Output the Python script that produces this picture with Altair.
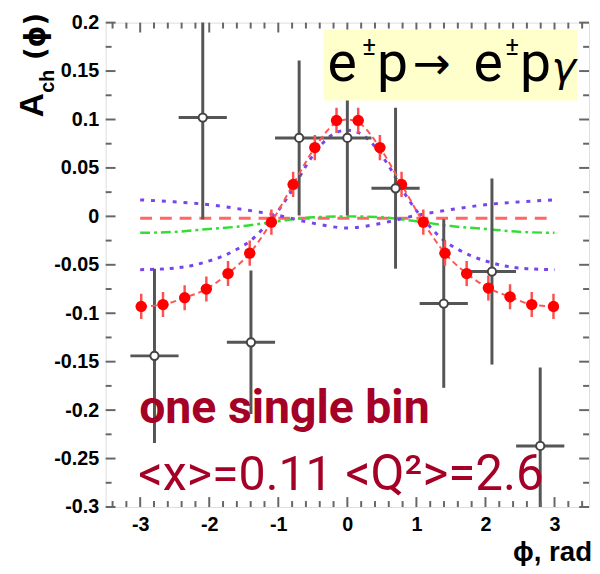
import altair as alt
import pandas as pd

# ---------------- data ----------------
# red points (20 bins)
red_x = [-2.985, -2.670, -2.356, -2.042, -1.728, -1.414, -1.100, -0.785, -0.471, -0.157,
         0.157, 0.471, 0.785, 1.100, 1.414, 1.728, 2.042, 2.356, 2.670, 2.985]
red_y = [-0.093, -0.091, -0.084, -0.075, -0.059, -0.038, -0.006, 0.033, 0.071, 0.099,
         0.099, 0.071, 0.033, -0.006, -0.038, -0.059, -0.074, -0.083, -0.091, -0.093]
red_yerr = [0.013] * 20
red_xerr = [0.08] * 20

# black open points (9 bins)
blk_x = [-2.793, -2.094, -1.396, -0.698, 0.0, 0.698, 1.396, 2.094, 2.793]
blk_y = [-0.144, 0.102, -0.130, 0.081, 0.081, 0.029, -0.090, -0.057, -0.237]
blk_yerr = [0.090, 0.105, 0.074, 0.080, 0.080, 0.083, 0.087, 0.096, 0.081]
blk_xerr = [0.349] * 9

# curves
fit_x = [-2.985, -2.670, -2.356, -2.042, -1.728, -1.414, -1.100, -0.785, -0.471, -0.157, 0.0,
         0.157, 0.471, 0.785, 1.100, 1.414, 1.728, 2.042, 2.356, 2.670, 2.985]
fit_y = [-0.093, -0.091, -0.084, -0.075, -0.059, -0.038, -0.006, 0.033, 0.071, 0.097, 0.100,
         0.097, 0.071, 0.033, -0.006, -0.038, -0.059, -0.074, -0.083, -0.091, -0.093]

flat_x = [-3.0, 3.0]
flat_y = [-0.002, -0.002]

green_x = [-3.0, -2.5, -2.0, -1.5, -1.0, -0.5, 0.0, 0.5, 1.0, 1.5, 2.0, 2.5, 3.0]
green_y = [-0.017, -0.016, -0.013, -0.010, -0.005, -0.001, 0.0, -0.001, -0.005, -0.010, -0.013, -0.016, -0.017]

blue1_x = [-3.0, -2.5, -2.0, -1.5, -1.0, -0.5, 0.0, 0.5, 1.0, 1.5, 2.0, 2.5, 3.0]
blue1_y = [0.017, 0.015, 0.012, 0.007, 0.001, -0.007, -0.012, -0.007, 0.001, 0.007, 0.012, 0.015, 0.017]

blue2_x = [-3.0, -2.6, -2.2, -2.0, -1.8, -1.6, -1.4, -1.2, -1.0, -0.8, -0.6, -0.4, -0.2, 0.0,
           0.2, 0.4, 0.6, 0.8, 1.0, 1.2, 1.4, 1.6, 1.8, 2.0, 2.2, 2.6, 3.0]
blue2_y = [-0.055, -0.054, -0.050, -0.046, -0.041, -0.034, -0.025, -0.011, 0.006, 0.027, 0.052, 0.072, 0.085, 0.089,
           0.085, 0.072, 0.052, 0.027, 0.006, -0.011, -0.025, -0.034, -0.041, -0.046, -0.050, -0.054, -0.055]

# axis ticks
x_major = [-3, -2, -1, 0, 1, 2, 3]
x_minor = [-3.4, -3.2, -2.8, -2.6, -2.4, -2.2, -1.8, -1.6, -1.4, -1.2, -0.8, -0.6, -0.4, -0.2,
           0.2, 0.4, 0.6, 0.8, 1.2, 1.4, 1.6, 1.8, 2.2, 2.4, 2.6, 2.8, 3.2, 3.4]
y_major = [-0.3, -0.25, -0.2, -0.15, -0.1, -0.05, 0, 0.05, 0.1, 0.15, 0.2]
y_minor = [-0.275, -0.225, -0.175, -0.125, -0.075, -0.025, 0.025, 0.075, 0.125, 0.175]

# ---------------- chart ----------------
W, H = 490, 491
XS = alt.Scale(domain=[-3.5, 3.5], nice=False, zero=False)
YS = alt.Scale(domain=[-0.3, 0.2], nice=False, zero=False)
LBL = "replace(format(datum.value, '.2~f'), '\u2212', '-')"

red_df = pd.DataFrame({"x": red_x, "y": red_y})
red_df["ylo"] = [a - b for a, b in zip(red_y, red_yerr)]
red_df["yhi"] = [a + b for a, b in zip(red_y, red_yerr)]
red_df["xlo"] = [a - b for a, b in zip(red_x, red_xerr)]
red_df["xhi"] = [a + b for a, b in zip(red_x, red_xerr)]

blk_df = pd.DataFrame({"x": blk_x, "y": blk_y})
blk_df["ylo"] = [a - b for a, b in zip(blk_y, blk_yerr)]
blk_df["yhi"] = [a + b for a, b in zip(blk_y, blk_yerr)]
blk_df["xlo"] = [a - b for a, b in zip(blk_x, blk_xerr)]
blk_df["xhi"] = [a + b for a, b in zip(blk_x, blk_xerr)]

XA = alt.Axis(values=x_major, labelExpr=LBL, tickSize=0, domain=False, grid=False,
              labelFont="Liberation Sans", labelFontWeight="bold", labelFontSize=20,
              labelColor="black", labelPadding=8, title=None)
YA = alt.Axis(values=y_major, labelExpr=LBL, tickSize=0, domain=False, grid=False,
              labelFont="Liberation Sans", labelFontWeight="bold", labelFontSize=20,
              labelColor="black", labelPadding=7, title=None)


def X(f):
    return alt.X(f, scale=XS, axis=XA)


def Y(f):
    return alt.Y(f, scale=YS, axis=YA)


def line(xs, ys, color, dash, width):
    df = pd.DataFrame({"x": xs, "y": ys})
    return alt.Chart(df).mark_line(color=color, strokeDash=dash, strokeWidth=width,
                                   clip=True, interpolate="monotone").encode(
        x=X("x:Q"), y=Y("y:Q"), order="x:Q")


one = pd.DataFrame({"a": [0]})


def txt(s, x, y, size, weight="normal", color="black", font="Roboto", angle=0,
        align="left", style="normal"):
    return alt.Chart(one).mark_text(text=s, fontSize=size, fontWeight=weight, color=color,
                                    font=font, angle=angle, align=align,
                                    baseline="alphabetic", fontStyle=style).encode(
        x=alt.value(x), y=alt.value(y))


TICK = "#666666"


def xticks(vals, length):
    df = pd.DataFrame({"x": vals})
    b = alt.Chart(df).mark_rule(color=TICK, strokeWidth=2).encode(
        x=X("x:Q"), y=alt.value(H), y2=alt.value(H - length))
    t = alt.Chart(df).mark_rule(color=TICK, strokeWidth=2).encode(
        x=X("x:Q"), y=alt.value(0), y2=alt.value(length))
    return [b, t]


def yticks(vals, length):
    df = pd.DataFrame({"y": vals})
    l = alt.Chart(df).mark_rule(color=TICK, strokeWidth=2).encode(
        y=Y("y:Q"), x=alt.value(0), x2=alt.value(length))
    r = alt.Chart(df).mark_rule(color=TICK, strokeWidth=2).encode(
        y=Y("y:Q"), x=alt.value(W), x2=alt.value(W - length))
    return [l, r]


layers = []
layers.append(line(flat_x, flat_y, "#ff6666", [12, 8], 3))
layers.append(line(green_x, green_y, "#33dd33", [10, 4, 3, 4], 2.5))
layers.append(line(blue1_x, blue1_y, "#7744ee", [4, 7], 3))
layers.append(line(blue2_x, blue2_y, "#7744ee", [4, 6], 3))

# black error bars
layers.append(alt.Chart(blk_df).mark_rule(color="#555555", strokeWidth=3, clip=True).encode(
    x=X("x:Q"), y=Y("ylo:Q"), y2="yhi:Q"))
layers.append(alt.Chart(blk_df).mark_rule(color="#555555", strokeWidth=3, clip=True).encode(
    x=X("xlo:Q"), x2="xhi:Q", y=Y("y:Q")))

# red fit
layers.append(line(fit_x, fit_y, "#ff5555", [6, 4], 2))
# red error bars and points
layers.append(alt.Chart(red_df).mark_rule(color="#ff5050", strokeWidth=2.5, clip=True).encode(
    x=X("x:Q"), y=Y("ylo:Q"), y2="yhi:Q"))
layers.append(alt.Chart(red_df).mark_rule(color="#ff5050", strokeWidth=2.5, clip=True).encode(
    x=X("xlo:Q"), x2="xhi:Q", y=Y("y:Q")))
layers.append(alt.Chart(red_df).mark_point(filled=True, color="#ff0000", size=130, opacity=1,
                                           shape="circle").encode(x=X("x:Q"), y=Y("y:Q")))
layers.append(alt.Chart(blk_df).mark_point(filled=True, fill="white", stroke="#444444",
                                           strokeWidth=2, size=70, opacity=1,
                                           shape="circle").encode(x=X("x:Q"), y=Y("y:Q")))

# ticks
layers += xticks(x_major, 10) + xticks(x_minor, 6) + yticks(y_major, 10) + yticks(y_minor, 6)

# reaction box
layers.append(alt.Chart(one).mark_rect(color="#ffffcc").encode(
    x=alt.value(221), x2=alt.value(478), y=alt.value(7), y2=alt.value(79)))
layers.append(txt("e", 225, 59, 56))
layers.append(txt("\u00b1", 260, 33, 26))
layers.append(txt("p", 275, 59, 56))
layers.append(txt("\u2192", 311, 57, 46, font="DejaVu Sans"))
layers.append(txt("e", 373, 59, 56))
layers.append(txt("\u00b1", 405, 33, 26))
layers.append(txt("p", 420, 59, 56))
layers.append(txt("\u03b3", 452, 59, 42, font="DejaVu Sans", style="italic"))

# annotations
DR = "#a50026"
layers.append(txt("one single bin", 34, 406, 47, weight="bold", color=DR))
layers.append(txt("<x>=0.11", 33, 474, 49, color=DR))
layers.append(txt("<Q\u00b2>=2.6", 243, 474, 50, color=DR))

# axis titles
layers.append(txt("A", -64, 96, 34, weight="bold", font="Liberation Sans", angle=270))
layers.append(txt("ch", -52, 71, 20, weight="bold", font="Liberation Sans", angle=270))
layers.append(txt("(\u03d5)", -61, 38, 28, weight="bold", font="DejaVu Sans", angle=270))
layers.append(txt("\u03d5, rad", 493, 546, 28, weight="bold", font="Liberation Sans", align="right"))

chart = alt.layer(*layers).properties(
    width=W, height=H,
    padding={"left": 99, "top": 11, "right": 3, "bottom": 56},
    autosize=alt.AutoSizeParams(type="none"),
).configure_view(stroke="#777777", strokeWidth=2.5).configure(background="white")

chart.save("out.html", embed_options={"renderer": "svg", "actions": False})
